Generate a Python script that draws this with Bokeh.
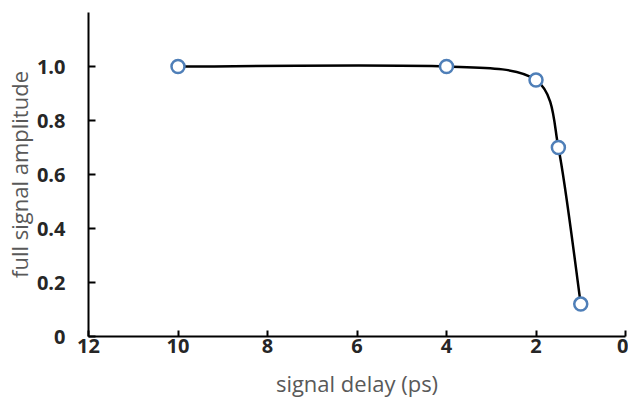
from bokeh.plotting import figure
from bokeh.models import Range1d, FixedTicker
from bokeh.embed import file_html
from bokeh.resources import INLINE
import numpy as np

# data
delay_ps = [10, 4, 2, 1.5, 1]
amplitude = [1.0, 1.0, 0.95, 0.70, 0.12]
x_ticks = [0, 2, 4, 6, 8, 10, 12]
y_ticks = [0, 0.2, 0.4, 0.6, 0.8, 1.0]
y_tick_labels = ["0", "0.2", "0.4", "0.6", "0.8", "1.0"]

X_START, X_END = 12, 0
Y_START, Y_END = 0, 1.2

W, H = 628, 410
BL, BR, BT, BB = 88, 3, 12, 74

p = figure(width=W, height=H, output_backend="svg", toolbar_location=None,
           x_range=Range1d(X_START, X_END), y_range=Range1d(Y_START, Y_END),
           min_border_left=BL, min_border_right=BR, min_border_top=BT, min_border_bottom=BB)
p.outline_line_color = None
p.xgrid.visible = False
p.ygrid.visible = False
p.background_fill_color = "white"
p.border_fill_color = "white"

# smooth (Excel-like) curve via cubic Bezier segments, computed in pixel-scaled space
frame_w = W - BL - BR
frame_h = H - BT - BB
sx = frame_w / abs(X_END - X_START)
sy = frame_h / abs(Y_END - Y_START)
P = np.column_stack([np.array(delay_ps, float) * sx, np.array(amplitude, float) * sy])
n = len(P)


def ctrl_vec(i):
    a = P[max(i - 1, 0)]
    b = P[min(i + 1, n - 1)]
    return (b - a) / 6.0


def clip(v, maxlen):
    L = np.hypot(*v)
    return v * (maxlen / L) if L > maxlen and L > 0 else v


seg = dict(x0=[], y0=[], x1=[], y1=[], cx0=[], cy0=[], cx1=[], cy1=[])
for i in range(n - 1):
    d = np.hypot(*(P[i + 1] - P[i])) / 3.0
    c0 = P[i] + clip(ctrl_vec(i), d)
    c1 = P[i + 1] - clip(ctrl_vec(i + 1), d)
    seg["x0"].append(P[i][0] / sx); seg["y0"].append(P[i][1] / sy)
    seg["x1"].append(P[i + 1][0] / sx); seg["y1"].append(P[i + 1][1] / sy)
    seg["cx0"].append(c0[0] / sx); seg["cy0"].append(c0[1] / sy)
    seg["cx1"].append(c1[0] / sx); seg["cy1"].append(c1[1] / sy)

p.bezier(line_color="black", line_width=2.5, **seg)

p.scatter(delay_ps, amplitude, size=13, marker="circle", fill_color="white",
          line_color="#4f7fb8", line_width=2.5)

# axes
for ax in (p.xaxis[0], p.yaxis[0]):
    ax.axis_line_color = "black"
    ax.axis_line_width = 2
    ax.major_tick_line_color = "black"
    ax.major_tick_line_width = 2
    ax.minor_tick_line_color = None
    ax.major_tick_out = 0
    ax.major_label_text_font = "Open Sans"
    ax.major_label_text_font_style = "bold"
    ax.major_label_text_font_size = "20px"
    ax.major_label_text_color = "#262626"
    ax.axis_label_text_font = "Open Sans"
    ax.axis_label_text_font_style = "normal"
    ax.axis_label_text_color = "#595959"

p.xaxis.ticker = FixedTicker(ticks=x_ticks)
p.xaxis.major_tick_in = 6
p.xaxis.major_label_standoff = 2
p.xaxis.axis_label = "signal delay (ps)"
p.xaxis.axis_label_text_font_size = "22px"
p.xaxis.axis_label_standoff = 12

p.yaxis.ticker = FixedTicker(ticks=y_ticks)
p.yaxis.major_label_overrides = {t: s for t, s in zip(y_ticks, y_tick_labels)}
p.yaxis.major_tick_in = 7
p.yaxis.major_label_standoff = 23
p.yaxis.axis_label = "full signal amplitude"
p.yaxis.axis_label_text_font_size = "22px"
p.yaxis.axis_label_standoff = 0

open("out.html", "w").write(file_html(p, INLINE))
